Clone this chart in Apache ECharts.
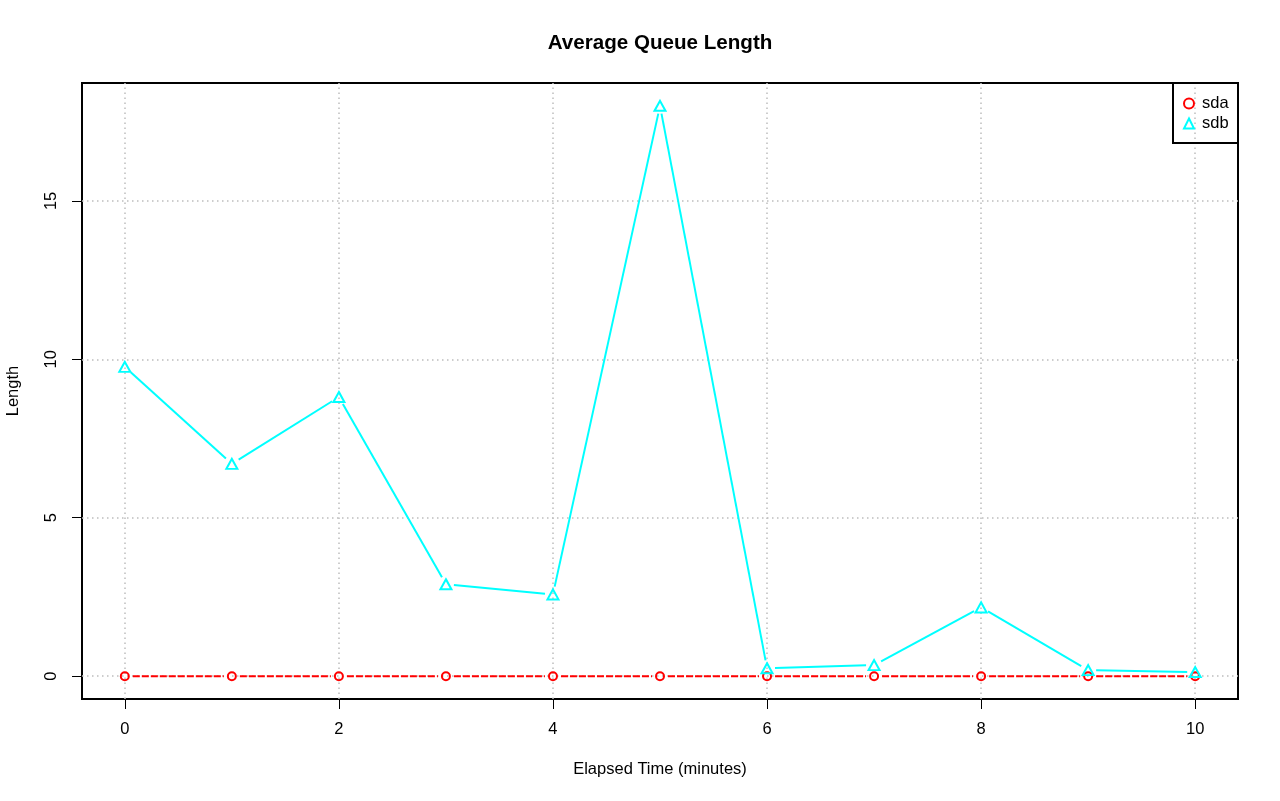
<!DOCTYPE html>
<html>
<head>
<meta charset="utf-8">
<script src="https://cdn.jsdelivr.net/npm/echarts@6/dist/echarts.min.js"></script>
<style>
html,body{margin:0;padding:0;background:#fff;}
#chart{width:1280px;height:801px;}
</style>
</head>
<body>
<div id="chart"></div>
<script>
// ---- data ----
const minutes = [0, 1, 2, 3, 4, 5, 6, 7, 8, 9, 10];
const sda = [0, 0, 0, 0, 0, 0, 0, 0, 0, 0, 0];
const sdb = [9.76, 6.70, 8.81, 2.90, 2.58, 18.0, 0.25, 0.35, 2.17, 0.19, 0.13];
const xTicks = [0, 2, 4, 6, 8, 10];
const yTicks = [0, 5, 10, 15];
const seriesNames = ['sda', 'sdb'];
const titleText = 'Average Queue Length';
const xTitle = 'Elapsed Time (minutes)';
const yTitle = 'Length';

// ---- helpers ----
const FONT = 'Liberation Sans, Arial, Helvetica, sans-serif';
const FS = 16.5;
function pairs(xs, ys) {
  return xs.map((x, i) => [x, ys[i]]);
}
function segments(xs, ys) {
  const out = [];
  for (let i = 0; i < xs.length - 1; i++) out.push([xs[i], ys[i], xs[i + 1], ys[i + 1]]);
  return out;
}
function segRenderer(color, dash) {
  return function (params, api) {
    const p0 = api.coord([api.value(0), api.value(1)]);
    const p1 = api.coord([api.value(2), api.value(3)]);
    const dx = p1[0] - p0[0], dy = p1[1] - p0[1];
    const len = Math.sqrt(dx * dx + dy * dy);
    const gap = 8;
    if (len <= 2 * gap) return null;
    const ux = dx / len, uy = dy / len;
    return {
      type: 'line',
      shape: { x1: p0[0] + ux * gap, y1: p0[1] + uy * gap, x2: p1[0] - ux * gap, y2: p1[1] - uy * gap },
      style: { stroke: color, lineWidth: 2, lineDash: dash, fill: null }
    };
  };
}

const xmin = Math.min(...minutes), xmax = Math.max(...minutes);
const xExt = (xmax - xmin) * 0.04;
const allY = sda.concat(sdb);
const ymin = Math.min(...allY), ymax = Math.max(...allY);
const yExt = (ymax - ymin) * 0.04;

const gridLine = { color: '#bdbdbd', width: 1.5, type: [1.5, 3.5] };

const chart = echarts.init(document.getElementById('chart'));
chart.setOption({
  animation: false,
  backgroundColor: '#fff',
  textStyle: { fontFamily: FONT, color: '#000' },
  grid: { left: 82, right: 42, top: 83, bottom: 102, show: true, borderColor: '#000', borderWidth: 2, backgroundColor: 'transparent', containLabel: false, outerBoundsMode: 'none' },
  xAxis: {
    type: 'value', min: xmin - xExt, max: xmax + xExt,
    axisLine: { show: false, onZero: false },
    splitLine: { show: false },
    axisTick: { show: true, length: 10, customValues: xTicks, lineStyle: { color: '#000', width: 1 } },
    axisLabel: { customValues: xTicks, margin: 22, fontSize: FS, color: '#000', fontFamily: FONT },
    name: xTitle, nameLocation: 'middle', nameGap: 62,
    nameTextStyle: { fontSize: FS, color: '#000', fontFamily: FONT }
  },
  yAxis: {
    type: 'value', min: ymin - yExt, max: ymax + yExt,
    axisLine: { show: false, onZero: false },
    splitLine: { show: false },
    axisTick: { show: true, length: 10, customValues: yTicks, lineStyle: { color: '#000', width: 1 } },
    axisLabel: { customValues: yTicks, rotate: 90, margin: 22, fontSize: FS, color: '#000', fontFamily: FONT },
    name: yTitle, nameLocation: 'middle', nameGap: 60, nameRotate: 90,
    nameTextStyle: { fontSize: FS, color: '#000', fontFamily: FONT }
  },
  legend: {
    orient: 'vertical', left: 1183, top: 95,
    itemWidth: 10, itemHeight: 10, itemGap: 3,
    padding: 0,
    textStyle: { fontSize: FS, lineHeight: 16, color: '#000', fontFamily: FONT, padding: [0, 0, 0, 3] },
    data: [
      { name: seriesNames[0], icon: 'circle', itemStyle: { color: 'transparent', borderColor: '#ff0000', borderWidth: 2 } },
      { name: seriesNames[1], icon: 'triangle', itemStyle: { color: 'transparent', borderColor: '#00ffff', borderWidth: 2 } }
    ]
  },
  graphic: [
    { type: 'text', x: 660, y: 43, style: { text: titleText, align: 'center', verticalAlign: 'middle', font: 'bold 20.6px ' + FONT, fill: '#000' } },
    { type: 'rect', shape: { x: 1173, y: 83, width: 65, height: 60 }, style: { fill: 'transparent', stroke: '#000', lineWidth: 2 }, z: 10 }
  ],
  series: [
    {
      type: 'custom', name: 'sda-line', silent: true, z: 2,
      renderItem: segRenderer('#ff0000', [7, 2]),
      data: segments(minutes, sda)
    },
    {
      type: 'custom', name: 'sdb-line', silent: true, z: 2,
      renderItem: segRenderer('#00ffff', null),
      data: segments(minutes, sdb)
    },
    {
      type: 'scatter', name: seriesNames[0], z: 3,
      symbol: 'circle', symbolSize: 8,
      itemStyle: { color: 'transparent', borderColor: '#ff0000', borderWidth: 2, opacity: 1 },
      data: pairs(minutes, sda),
      markLine: {
        silent: true, symbol: 'none', label: { show: false }, z: 1,
        lineStyle: gridLine,
        data: xTicks.map(v => ({ xAxis: v })).concat(yTicks.map(v => ({ yAxis: v })))
      }
    },
    {
      type: 'scatter', name: seriesNames[1], z: 3,
      symbol: 'triangle', symbolSize: [11, 10],
      itemStyle: { color: 'transparent', borderColor: '#00ffff', borderWidth: 2, opacity: 1 },
      data: pairs(minutes, sdb)
    }
  ]
});
</script>
</body>
</html>
